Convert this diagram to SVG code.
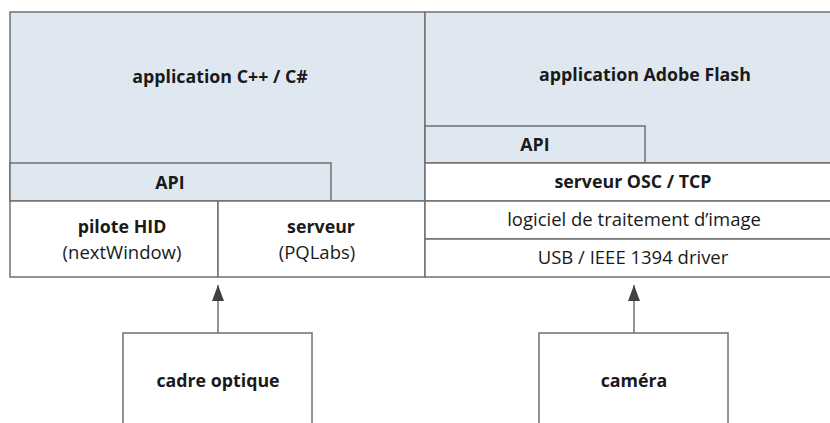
<svg xmlns="http://www.w3.org/2000/svg" width="830" height="423" viewBox="0 0 830 423">
<defs>
<style>
.b{stroke:#707070;stroke-width:1.5;}
.blue{fill:#dfe8f1;}
.white{fill:#ffffff;}
text{font-family:"Open Sans","Liberation Sans",sans-serif;font-size:18.5px;fill:#1a1a1a;text-anchor:middle;}
.bold{font-weight:bold;font-size:17.8px;}
</style>
<marker id="arr" markerWidth="16" markerHeight="12" refX="16" refY="6" orient="auto" markerUnits="userSpaceOnUse" viewBox="0 0 16 12">
<path d="M0,0 L16,6 L0,12 Z" fill="#404040"/>
</marker>
</defs>
<rect width="830" height="423" fill="#ffffff"/>
<g id="app-cpp">
<rect class="b blue" x="10" y="12" width="415" height="189"/>
<text class="bold" x="220" y="83">application C++ / C#</text>
</g>
<g id="app-flash">
<rect class="b blue" x="425" y="12" width="420" height="151"/>
<text class="bold" x="645" y="81">application Adobe Flash</text>
</g>
<g id="api-left">
<rect class="b blue" x="10" y="163" width="321" height="38"/>
<text class="bold" x="170" y="189">API</text>
</g>
<g id="api-right">
<rect class="b blue" x="425" y="126" width="220" height="37"/>
<text class="bold" x="535" y="151">API</text>
</g>
<g id="serveur-osc">
<rect class="b white" x="425" y="163" width="420" height="38"/>
<text class="bold" x="633" y="188">serveur OSC / TCP</text>
</g>
<g id="pilote-hid">
<rect class="b white" x="10" y="201" width="208" height="76"/>
<text class="bold" x="122" y="233">pilote HID</text>
<text x="122" y="259">(nextWindow)</text>
</g>
<g id="serveur-pq">
<rect class="b white" x="218" y="201" width="207" height="76"/>
<text class="bold" x="321" y="233">serveur</text>
<text x="317" y="259">(PQLabs)</text>
</g>
<g id="logiciel">
<rect class="b white" x="425" y="201" width="420" height="38"/>
<text x="634" y="226">logiciel de traitement d’image</text>
</g>
<g id="usb">
<rect class="b white" x="425" y="239" width="420" height="38"/>
<text x="633" y="264">USB / IEEE 1394 driver</text>
</g>
<g id="cadre">
<rect class="b white" x="123" y="333" width="189" height="110"/>
<text class="bold" x="218" y="387">cadre optique</text>
</g>
<g id="camera">
<rect class="b white" x="539" y="333" width="189" height="110"/>
<text class="bold" x="634" y="387">caméra</text>
</g>
<g id="connectors">
<line class="b" x1="218" y1="333" x2="218" y2="285" marker-end="url(#arr)"/>
<line class="b" x1="634" y1="333" x2="634" y2="285" marker-end="url(#arr)"/>
</g>
</svg>
